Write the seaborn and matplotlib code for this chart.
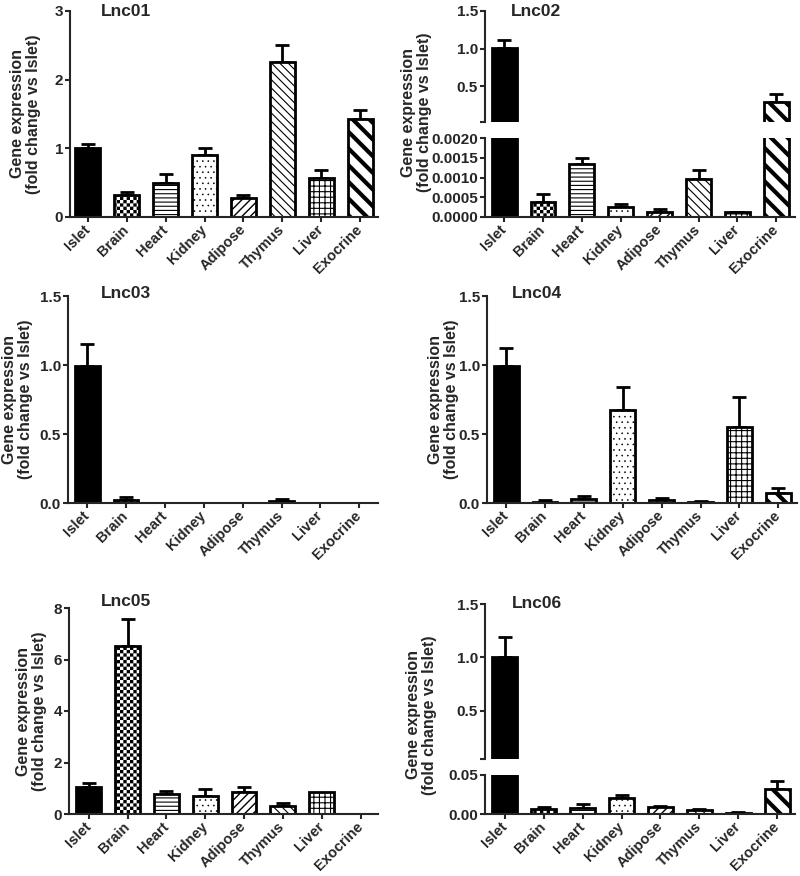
import numpy as np
import pandas as pd
import seaborn as sns
import matplotlib
matplotlib.use('Agg')
import matplotlib.pyplot as plt
import matplotlib.hatch as mhatch
from matplotlib.path import Path

# data (mean and upward error)
tissues = ['Islet', 'Brain', 'Heart', 'Kidney', 'Adipose', 'Thymus', 'Liver', 'Exocrine']

lnc01_mean = [1.00, 0.32, 0.50, 0.90, 0.27, 2.26, 0.57, 1.42]
lnc01_err = [0.06, 0.04, 0.12, 0.11, 0.05, 0.24, 0.12, 0.14]

lnc02_mean = [1.01, 0.00038, 0.00135, 0.00025, 0.00013, 0.00095, 0.00012, 0.29]
lnc02_err = [0.10, 0.00019, 0.00015, 0.00007, 0.00008, 0.00025, 0.00001, 0.10]

lnc03_mean = [0.99, 0.019, 0.0, 0.0, 0.0, 0.015, 0.0, 0.0]
lnc03_err = [0.16, 0.022, 0.0, 0.0, 0.0, 0.012, 0.0, 0.0]

lnc04_mean = [0.99, 0.010, 0.029, 0.677, 0.022, 0.005, 0.552, 0.075]
lnc04_err = [0.13, 0.009, 0.022, 0.163, 0.014, 0.007, 0.213, 0.036]

lnc05_mean = [1.04, 6.51, 0.77, 0.70, 0.87, 0.31, 0.84, 0.0]
lnc05_err = [0.17, 1.06, 0.14, 0.26, 0.18, 0.105, 0.0, 0.0]

lnc06_mean = [1.00, 0.0068, 0.0072, 0.020, 0.0085, 0.0047, 0.0013, 0.0326]
lnc06_err = [0.187, 0.0017, 0.0058, 0.004, 0.0021, 0.0017, 0.0012, 0.0094]

ylabel = 'Gene expression\n(fold change vs Islet)'


# checkerboard hatch (takes the place of the '*' stars pattern)
class CheckerHatch(mhatch.HatchPatternBase):
    filled = True

    def __init__(self, hatch, density):
        n = int(hatch.count('*') * density)
        self.n = n + (n % 2)
        self.num_vertices = (self.n * self.n // 2) * 5

    def set_vertices_and_codes(self, vertices, codes):
        s = 1.0 / self.n
        k = 0
        for i in range(self.n):
            for j in range(self.n):
                if (i + j) % 2:
                    continue
                x0, y0 = i * s, j * s
                vertices[k:k + 5] = [(x0, y0), (x0 + s, y0), (x0 + s, y0 + s), (x0, y0 + s), (x0, y0)]
                codes[k:k + 5] = [Path.MOVETO, Path.LINETO, Path.LINETO, Path.LINETO, Path.CLOSEPOLY]
                k += 5


mhatch._hatch_types = [t for t in mhatch._hatch_types if t is not mhatch.Stars] + [CheckerHatch]

sns.set_style('ticks')
plt.rcParams['font.family'] = ['Liberation Sans', 'DejaVu Sans']
plt.rcParams['font.weight'] = 'bold'
plt.rcParams['axes.labelweight'] = 'bold'

hatches = [None, '*****', '----', '...', '////', '\\\\\\\\', '+++', '\\\\']
hatch_lws = [1.0, 0.01, 0.8, 0.4, 1.0, 0.8, 0.8, 3.0]

W, H = 800, 876
fig = plt.figure(figsize=(8, 8.76), dpi=100)


def px_axes(left, top, right, bottom):
    return fig.add_axes([left / W, 1 - bottom / H, (right - left) / W, (bottom - top) / H])


def draw_bars(ax, mean, err, ymin=None):
    df = pd.DataFrame({'tissue': tissues, 'value': mean})
    sns.barplot(data=df, x='tissue', y='value', color='white', edgecolor='black',
                linewidth=2, width=0.64, errorbar=None, saturation=1, ax=ax)
    for i, p in enumerate(ax.patches):
        if i == 0:
            p.set_facecolor('black')
        else:
            p.set_hatch(hatches[i])
            if hasattr(p, 'set_hatch_linewidth'):
                p.set_hatch_linewidth(hatch_lws[i])
        if p.get_height() == 0:
            p.set_linewidth(0)
        if ymin is not None and p.get_height() < ymin:
            p.set_visible(False)
    mean = np.array(mean)
    err = np.array(err)
    keep = err > 0
    if ymin is not None:
        keep &= mean > ymin
    ax.errorbar(np.arange(len(tissues))[keep], mean[keep],
                yerr=[np.zeros(keep.sum()), err[keep]], fmt='none', ecolor='black',
                elinewidth=2, capsize=5, capthick=2, zorder=0.9)


def style_axes(ax, xlim, show_x=True):
    ax.set_xlim(xlim)
    sns.despine(ax=ax)
    ax.set_xlabel('')
    ax.set_ylabel('')
    for s in ['left', 'bottom']:
        ax.spines[s].set_linewidth(1.5)
    ax.tick_params(axis='both', width=1.5, length=3.5, labelsize=11, pad=1.5)
    if show_x:
        ax.set_xticks(range(len(tissues)))
        ax.set_xticklabels(tissues, rotation=45, ha='right', va='center',
                           rotation_mode='anchor', fontsize=10.5)
        ax.tick_params(axis='x', pad=4)
    else:
        ax.spines['bottom'].set_visible(False)
        ax.tick_params(axis='x', bottom=False, labelbottom=False)


def set_label(ax, x, y):
    ax.set_ylabel(ylabel, fontsize=11.5, linespacing=1.05)
    ax.yaxis.set_label_coords(x, y)


def title(x, y, s):
    fig.text(x / W, 1 - y / H, s, fontsize=12.5, fontweight='bold', ha='left', va='center')


# Lnc01
ax1 = px_axes(70, 11, 378, 217)
draw_bars(ax1, lnc01_mean, lnc01_err)
style_axes(ax1, (-0.46, 7.46))
ax1.set_ylim(0, 3)
ax1.set_yticks([0, 1, 2, 3])
set_label(ax1, -0.094, 0.5)
title(101, 11, 'Lnc01')

# Lnc02 (broken axis)
ax2u = px_axes(485, 11, 795, 122)
draw_bars(ax2u, lnc02_mean, lnc02_err, ymin=0.02)
style_axes(ax2u, (-0.49, 7.48), show_x=False)
ax2u.set_ylim(0.02, 1.5)
ax2u.set_yticks([0.02, 0.5, 1.0, 1.5])
ax2u.set_yticklabels(['', '0.5', '1.0', '1.5'])
ax2l = px_axes(485, 138, 795, 217)
draw_bars(ax2l, lnc02_mean, lnc02_err)
style_axes(ax2l, (-0.49, 7.48))
ax2l.set_ylim(0, 0.002)
ax2l.set_yticks([0, 0.0005, 0.001, 0.0015, 0.002])
ax2l.set_yticklabels(['0.0000', '0.0005', '0.0010', '0.0015', '0.0020'])
set_label(ax2l, -0.172, 1.32)
title(511, 11, 'Lnc02')

# Lnc03
ax3 = px_axes(68, 296, 378, 503)
draw_bars(ax3, lnc03_mean, lnc03_err)
style_axes(ax3, (-0.49, 7.48))
ax3.set_ylim(0, 1.5)
ax3.set_yticks([0, 0.5, 1.0, 1.5])
ax3.set_yticklabels(['0.0', '0.5', '1.0', '1.5'])
set_label(ax3, -0.113, 0.5)
title(101, 293, 'Lnc03')

# Lnc04
ax4 = px_axes(487, 296, 797, 503)
draw_bars(ax4, lnc04_mean, lnc04_err)
style_axes(ax4, (-0.49, 7.48))
ax4.set_ylim(0, 1.5)
ax4.set_yticks([0, 0.5, 1.0, 1.5])
ax4.set_yticklabels(['0.0', '0.5', '1.0', '1.5'])
set_label(ax4, -0.09, 0.5)
title(512, 293, 'Lnc04')

# Lnc05
ax5 = px_axes(69, 608, 378, 814)
draw_bars(ax5, lnc05_mean, lnc05_err)
style_axes(ax5, (-0.51, 7.45))
ax5.set_ylim(0, 8)
ax5.set_yticks([0, 2, 4, 6, 8])
set_label(ax5, -0.071, 0.5)
title(101, 601, 'Lnc05')

# Lnc06 (broken axis)
ax6u = px_axes(485, 604, 795, 759)
draw_bars(ax6u, lnc06_mean, lnc06_err, ymin=0.05)
style_axes(ax6u, (-0.51, 7.46), show_x=False)
ax6u.set_ylim(0.05, 1.5)
ax6u.set_yticks([0.05, 0.5, 1.0, 1.5])
ax6u.set_yticklabels(['', '0.5', '1.0', '1.5'])
ax6l = px_axes(485, 775, 795, 814)
draw_bars(ax6l, lnc06_mean, lnc06_err)
style_axes(ax6l, (-0.51, 7.46))
ax6l.set_ylim(0, 0.05)
ax6l.set_yticks([0, 0.05])
ax6l.set_yticklabels(['0.00', '0.05'])
set_label(ax6l, -0.155, 2.54)
title(512, 604, 'Lnc06')

fig.savefig('out.png', dpi=100)
